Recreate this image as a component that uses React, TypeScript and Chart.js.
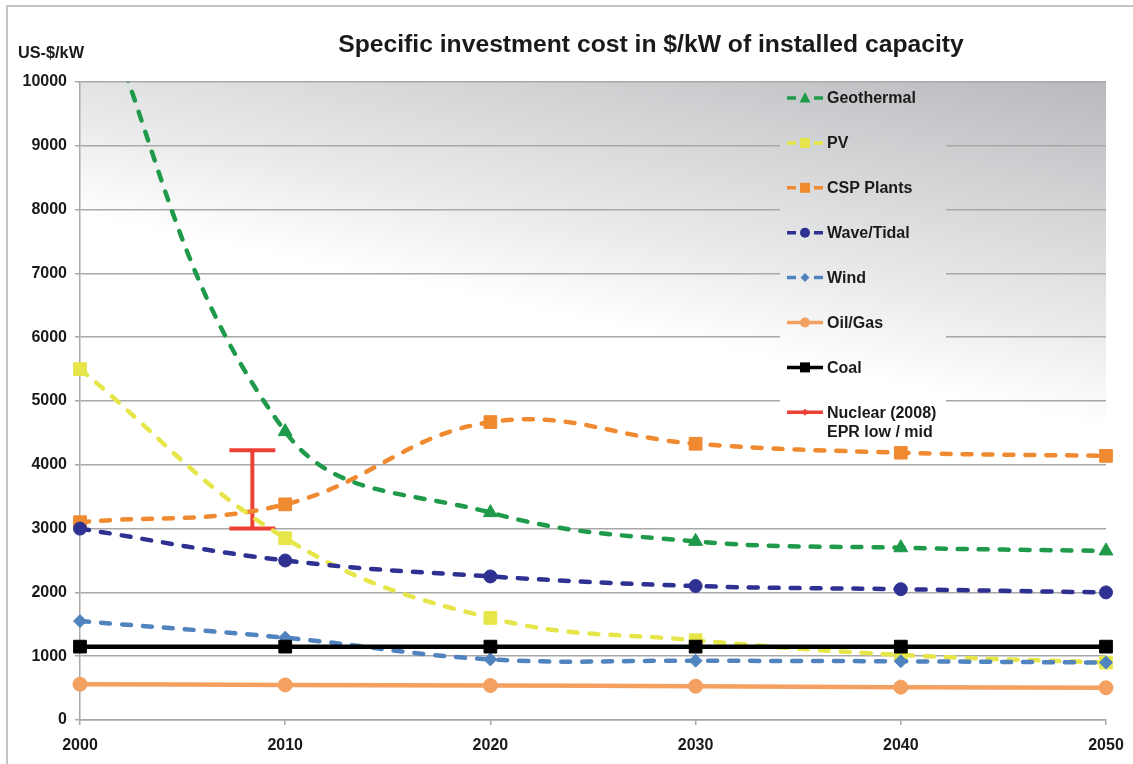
import React, { useEffect, useRef } from 'react';
import { Chart, registerables } from 'chart.js';

Chart.register(...registerables);

// ---------- data ----------
const YEARS = [2000, 2010, 2020, 2030, 2040, 2050];
const GEOTHERMAL = [12000, 4520, 3250, 2800, 2700, 2650];
const PV = [5500, 2850, 1600, 1250, 1020, 900];
const CSP_PLANTS = [3100, 3380, 4670, 4330, 4190, 4140];
const WAVE_TIDAL = [3000, 2500, 2250, 2100, 2050, 2000];
const WIND = [1550, 1290, 950, 930, 920, 900];
const OIL_GAS = [560, 550, 540, 530, 515, 505];
const COAL = [1150, 1150, 1150, 1150, 1150, 1150];
const NUCLEAR_YEAR = 2008.4;
const NUCLEAR_RANGE = [3000, 4230];

const X_MIN = 2000;
const X_MAX = 2050;
const X_STEP = 10;
const Y_MIN = 0;
const Y_MAX = 10000;
const Y_STEP = 1000;

const TITLE = 'Specific investment cost in $/kW of installed capacity';
const Y_UNIT = 'US-$/kW';
const NUCLEAR_LABEL = ['Nuclear (2008)', 'EPR low / mid'];

const FONT = '"Liberation Sans", Arial, Helvetica, sans-serif';

type Series = {
  name: string;
  data: number[];
  color: string;
  dashed: boolean;
  marker: 'triangle' | 'rect' | 'circle' | 'rectRot';
  radius: number;
};

const SERIES: Series[] = [
  { name: 'Geothermal', data: GEOTHERMAL, color: '#1f9a4a', dashed: true, marker: 'triangle', radius: 8 },
  { name: 'PV', data: PV, color: '#e6e64a', dashed: true, marker: 'rect', radius: 9 },
  { name: 'CSP Plants', data: CSP_PLANTS, color: '#f08a30', dashed: true, marker: 'rect', radius: 9 },
  { name: 'Wave/Tidal', data: WAVE_TIDAL, color: '#2e3192', dashed: true, marker: 'circle', radius: 6.5 },
  { name: 'Wind', data: WIND, color: '#5184bf', dashed: true, marker: 'rectRot', radius: 6.5 },
  { name: 'Oil/Gas', data: OIL_GAS, color: '#f4a061', dashed: false, marker: 'circle', radius: 7 },
  { name: 'Coal', data: COAL, color: '#000000', dashed: false, marker: 'rect', radius: 9 },
];
const NUCLEAR_COLOR = '#ee4136';

// draw order: Chart.js paints dataset 0 last (on top)
const DRAW_ORDER = ['Coal', 'Wind', 'Oil/Gas', 'Wave/Tidal', 'PV', 'Geothermal', 'CSP Plants'];

function makeGradient(ctx: CanvasRenderingContext2D, area: any) {
  const w = area.right - area.left;
  const h = area.bottom - area.top;
  const g = ctx.createLinearGradient(area.right, area.top, area.right - 0.067 * w, area.top + 0.52 * h);
  g.addColorStop(0, '#b7b9bc');
  g.addColorStop(0.35, '#d1d2d4');
  g.addColorStop(0.72, '#eaeaeb');
  g.addColorStop(1, '#ffffff');
  return g;
}

function drawMarker(ctx: CanvasRenderingContext2D, kind: string, x: number, y: number, s: number) {
  ctx.beginPath();
  if (kind === 'triangle') {
    ctx.moveTo(x, y - s * 0.6);
    ctx.lineTo(x + s * 0.55, y + s * 0.45);
    ctx.lineTo(x - s * 0.55, y + s * 0.45);
    ctx.closePath();
  } else if (kind === 'rect') {
    ctx.rect(x - s / 2, y - s / 2, s, s);
  } else if (kind === 'circle') {
    ctx.arc(x, y, s / 2, 0, Math.PI * 2);
  } else {
    ctx.moveTo(x, y - s / 2);
    ctx.lineTo(x + s / 2, y);
    ctx.lineTo(x, y + s / 2);
    ctx.lineTo(x - s / 2, y);
    ctx.closePath();
  }
  ctx.fill();
}

const backgroundPlugin = {
  id: 'bgGradient',
  beforeDraw(chart: any) {
    const { ctx, chartArea } = chart;
    ctx.save();
    ctx.fillStyle = '#ffffff';
    ctx.fillRect(0, 0, chart.width, chart.height);
    ctx.fillStyle = makeGradient(ctx, chartArea);
    ctx.fillRect(chartArea.left, chartArea.top, chartArea.right - chartArea.left, chartArea.bottom - chartArea.top);
    // outer frame (left / top)
    ctx.strokeStyle = '#c4c4c4';
    ctx.lineWidth = 2;
    ctx.beginPath();
    ctx.moveTo(7, chart.height);
    ctx.lineTo(7, 6);
    ctx.lineTo(chart.width, 6);
    ctx.stroke();
    ctx.restore();
  },
};

const legendPlugin = {
  id: 'customLegend',
  afterDatasetsDraw(chart: any) {
    const { ctx, chartArea } = chart;
    const boxX = 780;
    const boxY = chartArea.top + 2;
    const boxW = 166;
    const boxH = 362;
    ctx.save();
    ctx.fillStyle = makeGradient(ctx, chartArea);
    ctx.fillRect(boxX, boxY, boxW, boxH);

    const x0 = 787;
    const x1 = 823;
    const mx = 805;
    const textX = 827;
    const top = 98;
    const step = 44.9;
    ctx.font = `bold 16px ${FONT}`;
    ctx.textBaseline = 'middle';
    ctx.textAlign = 'left';

    SERIES.forEach((s, i) => {
      const y = top + i * step;
      ctx.strokeStyle = s.color;
      ctx.fillStyle = s.color;
      ctx.lineWidth = 3.5;
      ctx.beginPath();
      if (s.dashed) {
        ctx.moveTo(x0, y);
        ctx.lineTo(x0 + 9, y);
        ctx.moveTo(x1 - 9, y);
        ctx.lineTo(x1, y);
      } else {
        ctx.moveTo(x0, y);
        ctx.lineTo(x1, y);
      }
      ctx.stroke();
      drawMarker(ctx, s.marker, mx, y, s.marker === 'rectRot' ? 9 : 10);
      ctx.fillStyle = '#1a1a1a';
      ctx.fillText(s.name, textX, y + 1);
    });

    const ny = top + SERIES.length * step;
    ctx.strokeStyle = NUCLEAR_COLOR;
    ctx.fillStyle = NUCLEAR_COLOR;
    ctx.lineWidth = 3.5;
    ctx.beginPath();
    ctx.moveTo(x0, ny);
    ctx.lineTo(x1, ny);
    ctx.stroke();
    drawMarker(ctx, 'rectRot', mx, ny, 7);
    ctx.fillStyle = '#1a1a1a';
    ctx.fillText(NUCLEAR_LABEL[0], textX, ny + 1);
    ctx.fillText(NUCLEAR_LABEL[1], textX, ny + 20);
    ctx.restore();
  },
};

const textPlugin = {
  id: 'titles',
  afterDraw(chart: any) {
    const { ctx } = chart;
    ctx.save();
    ctx.fillStyle = '#1a1a1a';
    ctx.textBaseline = 'middle';
    ctx.font = `bold 24.7px ${FONT}`;
    ctx.textAlign = 'center';
    ctx.fillText(TITLE, 651, 45);
    ctx.font = `bold 16.3px ${FONT}`;
    ctx.textAlign = 'left';
    ctx.fillText(Y_UNIT, 18, 54);
    ctx.restore();
  },
};

export default function App() {
  const canvasRef = useRef<HTMLCanvasElement | null>(null);

  useEffect(() => {
    const canvas = canvasRef.current;
    if (!canvas) return;

    const byName: Record<string, Series> = {};
    SERIES.forEach((s) => (byName[s.name] = s));

    const edgeClip = { left: 14, right: 14, top: 0, bottom: 14 };

    const datasets: any[] = [];
    DRAW_ORDER.forEach((name) => {
      const s = byName[name];
      datasets.push({
        label: s.name,
        data: YEARS.map((yr, i) => ({ x: yr, y: s.data[i] })),
        borderColor: s.color,
        backgroundColor: s.color,
        borderWidth: 4.5,
        borderDash: s.dashed ? [9, 12] : [],
        borderCapStyle: s.dashed ? 'round' : 'butt',
        tension: 0.4,
        clip: edgeClip,
        pointStyle: s.marker,
        pointRadius: s.radius,
        pointBorderWidth: 1,
        pointBorderColor: s.color,
        pointBackgroundColor: s.color,
      });
    });
    datasets.push({
      label: 'Nuclear (2008) EPR low / mid',
      data: NUCLEAR_RANGE.map((v) => ({ x: NUCLEAR_YEAR, y: v })),
      borderColor: NUCLEAR_COLOR,
      backgroundColor: NUCLEAR_COLOR,
      borderWidth: 4,
      tension: 0,
      clip: edgeClip,
      pointStyle: 'line',
      pointRadius: 23,
      pointBorderWidth: 4,
      pointBorderColor: NUCLEAR_COLOR,
    });

    const tickFont = { family: FONT, size: 16, weight: 'bold' as const };

    const chart = new Chart(canvas, {
      type: 'line',
      data: { datasets },
      options: {
        animation: false,
        responsive: false,
        maintainAspectRatio: false,
        layout: { padding: { left: 0, right: 23, top: 82, bottom: 0 } },
        plugins: {
          legend: { display: false },
          title: { display: false },
          tooltip: { enabled: false },
        },
        scales: {
          x: {
            type: 'linear',
            min: X_MIN,
            max: X_MAX,
            afterFit: (scale: any) => {
              scale.height = 44;
              scale.paddingLeft = 0;
              scale.paddingRight = 0;
            },
            ticks: {
              stepSize: X_STEP,
              color: '#1a1a1a',
              font: tickFont,
              padding: 11,
              maxRotation: 0,
              callback: (v: any) => String(v),
            },
            grid: {
              drawOnChartArea: false,
              drawTicks: true,
              tickLength: 5,
              color: '#a8a8a8',
              lineWidth: 1.5,
            },
            border: { display: true, color: '#a8a8a8', width: 1.5 },
          },
          y: {
            type: 'linear',
            min: Y_MIN,
            max: Y_MAX,
            afterFit: (scale: any) => {
              scale.width = 80;
            },
            ticks: {
              stepSize: Y_STEP,
              color: '#1a1a1a',
              font: tickFont,
              padding: 8,
              callback: (v: any) => String(v),
            },
            grid: {
              color: '#a8a8a8',
              lineWidth: 1.5,
              tickLength: 5,
            },
            border: { display: true, color: '#a8a8a8', width: 1.5 },
          },
        },
      },
      plugins: [backgroundPlugin, legendPlugin, textPlugin],
    });

    return () => chart.destroy();
  }, []);

  return (
    <div style={{ position: 'absolute', left: 0, top: 0, width: 1133, height: 764, background: '#fff' }}>
      <canvas ref={canvasRef} width={1133} height={764} style={{ display: 'block' }} />
    </div>
  );
}
